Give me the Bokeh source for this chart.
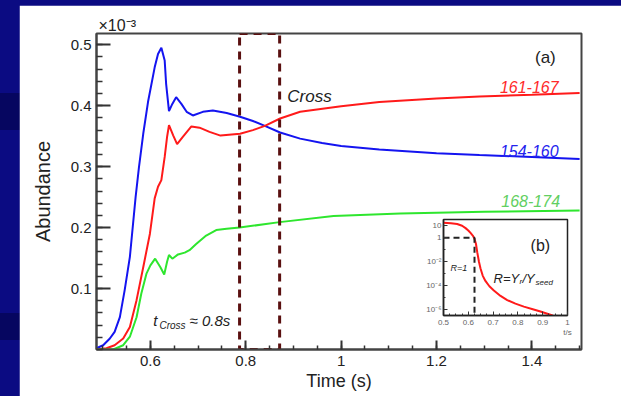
from bokeh.plotting import figure
from bokeh.models import FixedTicker, CustomJSTickFormatter, Label, Range1d
from bokeh.layouts import column, row
from bokeh.embed import file_html
from bokeh.resources import INLINE

# ---------------- data (abundance in units of 1e-3) ----------------
time_154_160 = [0.487, 0.501, 0.515, 0.525, 0.536, 0.546, 0.557, 0.569, 0.576, 0.585, 0.595,
                0.609, 0.616, 0.623, 0.630, 0.633, 0.639, 0.646, 0.654, 0.665, 0.676, 0.689,
                0.710, 0.731, 0.760, 0.788, 0.815, 0.840, 0.872, 0.914, 0.960, 1.000, 1.080,
                1.200, 1.290, 1.400, 1.500]
abund_154_160 = [0.002, 0.007, 0.018, 0.029, 0.053, 0.097, 0.152, 0.250, 0.299, 0.354, 0.406,
                 0.463, 0.485, 0.495, 0.474, 0.436, 0.391, 0.403, 0.414, 0.403, 0.390, 0.384,
                 0.390, 0.392, 0.388, 0.382, 0.375, 0.367, 0.356, 0.346, 0.339, 0.334, 0.328,
                 0.322, 0.319, 0.316, 0.3125]

time_161_167 = [0.487, 0.508, 0.525, 0.543, 0.557, 0.571, 0.585, 0.599, 0.609, 0.616, 0.623,
                0.630, 0.635, 0.639, 0.648, 0.656, 0.668, 0.686, 0.703, 0.724, 0.747, 0.788,
                0.815, 0.840, 0.872, 0.914, 1.000, 1.080, 1.200, 1.290, 1.400, 1.500]
abund_161_167 = [0.000, 0.002, 0.007, 0.018, 0.037, 0.081, 0.135, 0.190, 0.248, 0.267, 0.278,
                 0.316, 0.349, 0.368, 0.351, 0.337, 0.349, 0.366, 0.364, 0.357, 0.351, 0.354,
                 0.360, 0.367, 0.379, 0.390, 0.399, 0.406, 0.412, 0.415, 0.418, 0.421]

time_168_174 = [0.487, 0.522, 0.543, 0.557, 0.571, 0.581, 0.592, 0.600, 0.610, 0.621, 0.629,
                0.635, 0.639, 0.646, 0.658, 0.672, 0.682, 0.696, 0.717, 0.738, 0.760, 0.787,
                0.871, 0.984, 1.124, 1.300, 1.500]
abund_168_174 = [0.000, 0.000, 0.007, 0.021, 0.053, 0.092, 0.125, 0.138, 0.149, 0.135, 0.123,
                 0.144, 0.155, 0.149, 0.156, 0.159, 0.163, 0.173, 0.187, 0.196, 0.198, 0.200,
                 0.209, 0.219, 0.223, 0.226, 0.228]

cross_window = [0.787, 0.871]          # dashed "Cross" box (s)

# inset (b): R = Y_r / Y_seed versus t
inset_t = [0.500, 0.530, 0.555, 0.575, 0.589, 0.600, 0.609, 0.618, 0.625, 0.631, 0.636, 0.643,
           0.649, 0.658, 0.669, 0.685, 0.703, 0.730, 0.757, 0.790, 0.824, 0.860, 0.891, 0.940]
inset_R = [18.0, 16.0, 14.0, 10.0, 6.3, 4.0, 2.5, 1.5, 0.83, 0.30, 0.063, 0.010,
           2.9e-3, 7.0e-4, 2.5e-4, 9.0e-5, 4.0e-5, 1.4e-5, 6.3e-6, 3.2e-6, 1.8e-6, 1.1e-6,
           7.2e-7, 3.3e-7]
threshold_t = [0.5, 0.625, 0.625]
threshold_R = [1.0, 1.0, 3.3e-7]

x_major = [0.6, 0.8, 1.0, 1.2, 1.4]
x_minor = [round(0.5 + 0.05 * i, 2) for i in range(21)]
y_major = [0.1, 0.2, 0.3, 0.4, 0.5]
y_minor = [round(0.02 * i, 2) for i in range(26)]
inset_x_major = [0.5, 0.6, 0.7, 0.8, 0.9, 1.0]
inset_x_minor = [round(0.5 + 0.025 * i, 3) for i in range(21)]
inset_y_major = [1e-6, 1e-4, 1e-2, 1.0, 10.0]
inset_y_minor = [1e-7, 1e-5, 1e-3, 1e-1]

FONT = "Liberation Sans"
RED, BLUE, GREEN = "#ff1a1a", "#1414f0", "#2ee62e"
FRAME = "#444444"
MAROON = "#5a1010"

num_fmt = CustomJSTickFormatter(code="return String(Math.round(tick*10)/10);")

# ---------------- main figure ----------------
p = figure(width=602, height=391, x_range=Range1d(0.487, 1.504), y_range=Range1d(0, 0.5185),
           output_backend="svg", toolbar_location=None,
           min_border_left=77, min_border_right=40, min_border_top=28, min_border_bottom=47)
p.grid.visible = False
p.outline_line_color = FRAME
p.outline_line_width = 2
p.border_fill_color = "white"

p.title.text = "\u00d710\u207b\u00b3"
p.title.align = "left"
p.title.offset = 2
p.title.standoff = 0
p.title.text_font = FONT
p.title.text_font_size = "16px"
p.title.text_font_style = "normal"
p.title.text_color = "#222222"

for ax, major, minor, tin, tmin in ((p.xaxis[0], x_major, x_minor, 9, 4),
                                    (p.yaxis[0], y_major, y_minor, 14, 6)):
    ax.ticker = FixedTicker(ticks=major, minor_ticks=minor)
    ax.formatter = num_fmt
    ax.major_tick_in = tin
    ax.major_tick_out = 0
    ax.minor_tick_in = tmin
    ax.minor_tick_out = 0
    ax.axis_line_color = FRAME
    ax.axis_line_width = 2
    ax.major_tick_line_color = "#333333"
    ax.major_tick_line_width = 2
    ax.minor_tick_line_color = "#333333"
    ax.minor_tick_line_width = 1.5
    ax.major_label_text_font = FONT
    ax.major_label_text_font_size = "15px"
    ax.major_label_text_color = "#222222"
    ax.axis_label_text_font = FONT
    ax.axis_label_text_font_style = "normal"
    ax.axis_label_text_color = "#222222"

p.xaxis.axis_label = "Time (s)"
p.xaxis.axis_label_text_font_size = "18px"
p.xaxis.major_label_standoff = 6
p.xaxis.axis_label_standoff = 2
p.yaxis.axis_label = "Abundance"
p.yaxis.axis_label_text_font_size = "20px"
p.yaxis.major_label_standoff = 5
p.yaxis.axis_label_standoff = 14

p.line(time_154_160, abund_154_160, line_color=BLUE, line_width=2)
p.line(time_161_167, abund_161_167, line_color=RED, line_width=2)
p.line(time_168_174, abund_168_174, line_color=GREEN, line_width=2)
p.quad(left=[cross_window[0]], right=[cross_window[1]], bottom=[0], top=[0.5185],
       fill_alpha=0, line_color=MAROON, line_width=3, line_dash="8 6")

def lab(fig, x, y, text, size, color="#222222", style="normal", align="left"):
    fig.add_layout(Label(x=x, y=y, text=text, text_font=FONT, text_font_size=size,
                         text_color=color, text_font_style=style, text_align=align,
                         text_baseline="alphabetic"))

lab(p, 1.450, 0.479, "(a)", "17px", align="right")
lab(p, 1.456, 0.430, "161-167", "16px", color="#ff2a2a", style="italic", align="right")
lab(p, 1.456, 0.325, "154-160", "16px", color="#2323ee", style="italic", align="right")
lab(p, 1.459, 0.243, "168-174", "16px", color="#62cf62", style="italic", align="right")
lab(p, 0.887, 0.415, "Cross", "17px", style="italic")
lab(p, 0.606, 0.048, "t", "15px", style="italic")
lab(p, 0.619, 0.040, "Cross", "10px", style="italic")
lab(p, 0.682, 0.048, "\u2248 0.8s", "15px", style="italic")

# ---------------- inset (b) ----------------
q = figure(width=152, height=126, x_range=Range1d(0.5, 1.0), y_range=Range1d(3.3e-7, 33),
           y_axis_type="log", output_backend="svg", toolbar_location=None,
           min_border_left=23, min_border_right=5, min_border_top=5, min_border_bottom=21)
q.grid.visible = False
q.outline_line_color = "#222222"
q.outline_line_width = 1.5
q.border_fill_alpha = 0
q.background_fill_color = "white"

q.xaxis.ticker = FixedTicker(ticks=inset_x_major, minor_ticks=inset_x_minor)
q.xaxis.formatter = CustomJSTickFormatter(
    code="const s = String(Math.round(tick*10)/10); return s == '1' ? '1\\nt/s' : s;")
q.yaxis.ticker = FixedTicker(ticks=inset_y_major, minor_ticks=inset_y_minor)
q.yaxis.formatter = CustomJSTickFormatter(code="""
    const e = Math.round(Math.log10(tick));
    if (e == 0) return "1";
    if (e == 1) return "10";
    const sup = {"-":"\u207b","0":"\u2070","1":"\u00b9","2":"\u00b2","3":"\u00b3",
                 "4":"\u2074","5":"\u2075","6":"\u2076","7":"\u2077","8":"\u2078","9":"\u2079"};
    return "10" + String(e).split("").map(c => sup[c]).join("");
""")
for ax in q.axis:
    ax.major_tick_in = 4
    ax.major_tick_out = 0
    ax.minor_tick_in = 2
    ax.minor_tick_out = 0
    ax.axis_line_color = "#222222"
    ax.axis_line_width = 1.5
    ax.major_tick_line_color = "#333333"
    ax.minor_tick_line_color = "#333333"
    ax.major_label_text_font = FONT
    ax.major_label_text_font_size = "8px"
    ax.major_label_text_color = "#666666"
    ax.major_label_standoff = 2

q.line(inset_t, inset_R, line_color=RED, line_width=2)
q.line(threshold_t, threshold_R, line_color="#222222", line_width=2, line_dash="6 4")

lab(q, 0.851, 0.24, "(b)", "16px")
lab(q, 0.528, 2.9e-3, "R=1", "9px", style="italic")
lab(q, 0.7016, 3.84e-4, "R=Y", "13px", style="italic")
lab(q, 0.8065, 2.2e-4, "r", "8px", style="italic")
lab(q, 0.8185, 3.84e-4, "/Y", "13px", style="italic")
lab(q, 0.871, 1.84e-4, "seed", "8px", style="italic")

# wrappers keep the two figures from aligning their frames
main_box = row(p)
main_box.margin = (5, 0, 0, 19)
inset_box = row(q)
inset_box.margin = (-182, 0, 56, 420)

root = column(main_box, inset_box, spacing=0)
root.styles = {"background": "linear-gradient(to bottom, #0b0b82 0px, #0b0b82 93px, #060660 93px, "
                             "#060660 130px, #0b0b82 130px, #0b0b82 313px, #060660 313px, "
                             "#060660 340px, #0b0b82 340px)"}

open("out.html", "w").write(file_html(root, INLINE))
